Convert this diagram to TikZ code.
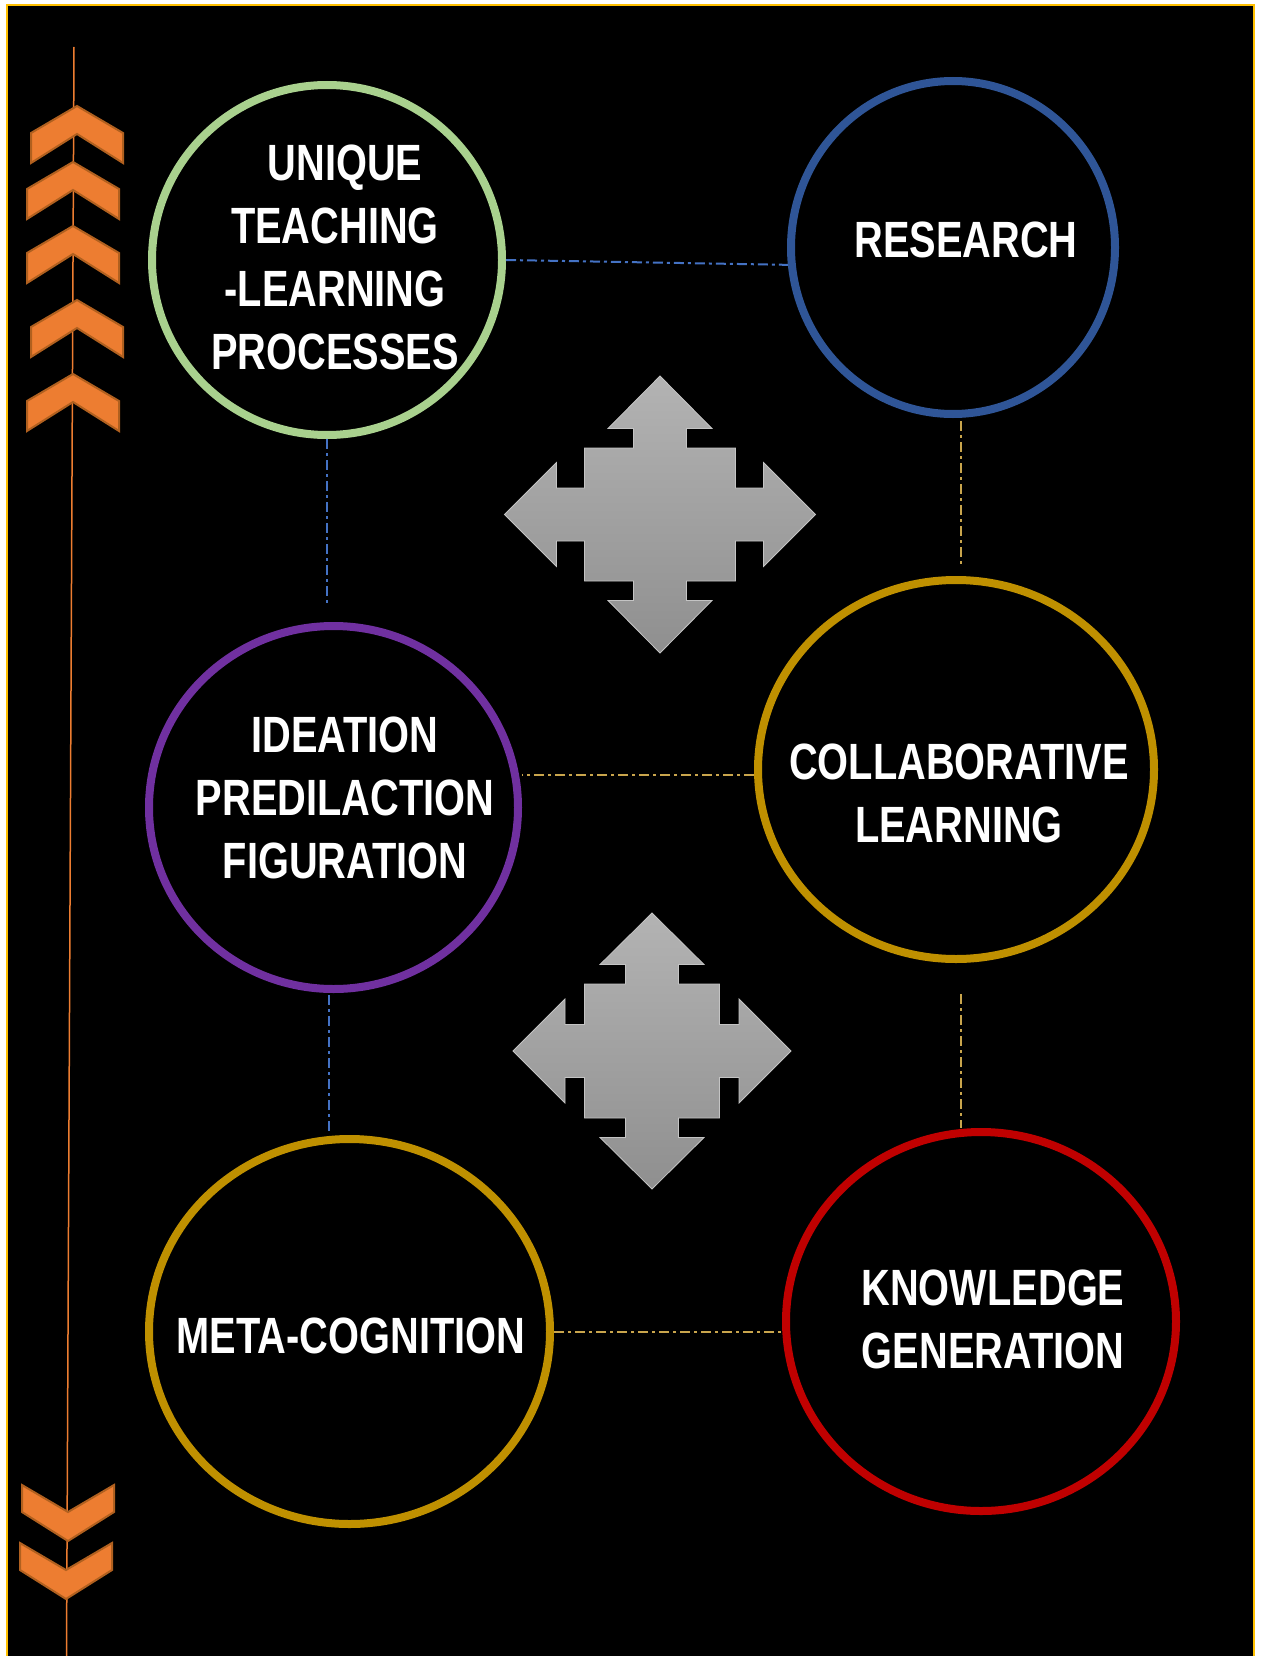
\documentclass[tikz,border=0pt]{standalone}
\usepackage{fontspec}
\newfontfamily\labfont[FakeStretch=0.78]{Liberation Sans}
\usetikzlibrary{calc,shapes}
\definecolor{framegold}{HTML}{FFC000}
\definecolor{spineorange}{HTML}{ED7D31}
\definecolor{chevfill}{HTML}{ED7D31}
\definecolor{chevline}{HTML}{B0601F}
\definecolor{crosstop}{HTML}{B3B3B3}
\definecolor{crossbot}{HTML}{8F8F8F}
\definecolor{crossline}{HTML}{C4C4C4}
\definecolor{ringgreen}{HTML}{A9D18E}
\definecolor{ringblue}{HTML}{2F5597}
\definecolor{ringpurple}{HTML}{7030A0}
\definecolor{ringgold}{HTML}{BF9000}
\definecolor{ringred}{HTML}{C00000}
\definecolor{linkblue}{HTML}{4472C4}
\definecolor{linkgold}{HTML}{C9A54C}

\begin{document}
\begin{tikzpicture}[x=1pt,y=-1pt,
ring/.style={ellipse,draw,line width=8pt,inner sep=0},
lab/.style={text=white,align=center,inner sep=0,
	font=\labfont\bfseries\fontsize{51}{63}\selectfont},
link/.style={line width=2pt,dash pattern=on 10pt off 4pt on 3pt off 4pt},
chev/.style={fill=chevfill,draw=chevline,line width=2pt},
cross/.style={top color=crosstop,bottom color=crossbot,draw=crossline,line width=0.8pt}]
	\def\crossarrow#1#2#3#4#5#6#7{%
		\filldraw[cross,shift={(#1)}] (0,-#7) -- (52,-#6) -- (26.5,-#6) -- (26.5,-#5)
		-- (#2,-#5) -- (#2,-26.5) -- (#3,-26.5) -- (#3,-52) -- (#4,0) -- (#3,52)
		-- (#3,26.5) -- (#2,26.5) -- (#2,#5) -- (26.5,#5) -- (26.5,#6) -- (52,#6)
		-- (0,#7) -- (-52,#6) -- (-26.5,#6) -- (-26.5,#5) -- (-#2,#5) -- (-#2,26.5)
		-- (-#3,26.5) -- (-#3,52) -- (-#4,0) -- (-#3,-52) -- (-#3,-26.5) -- (-#2,-26.5)
		-- (-#2,-#5) -- (-26.5,-#5) -- (-26.5,-#6) -- (-52,-#6) -- cycle;}
	\useasboundingbox (0,0) rectangle (1262,1656);
	\fill[white] (0,0) rectangle (1262,1656);
	\fill[black] (7,5) rectangle (1254,1656);
	\draw[framegold,line width=2pt] (7,1656) -- (7,5) -- (1254,5) -- (1254,1656);

	%left spine
	\draw[spineorange,line width=1.5pt] (74,47) -- (66.5,1656);
	\foreach \cx/\cy in {77/106,73/162,73/226,77/300,73/374} {
		\filldraw[chev] (\cx,\cy) -- ++(46,27) -- ++(0,30) -- (\cx,\cy+28)
		-- (\cx-46,\cy+57) -- ++(0,-30) -- cycle;
	}
	\foreach \cx/\cy in {68/1541,66/1599} {
		\filldraw[chev] (\cx,\cy) -- ++(46,-29) -- ++(0,-27) -- (\cx,\cy-29)
		-- (\cx-46,\cy-56) -- ++(0,27) -- cycle;
	}

	%four-way arrows
	\crossarrow{660,514.5}{75.5}{103.5}{155.5}{66.5}{86}{138.5}
	\crossarrow{652,1051}{67.5}{87}{139}{67}{86.5}{138}

	%circles
	\node[ring,draw=ringgreen,minimum width=350pt,minimum height=350pt] (uniq) at (327,260) {};
	\node[ring,draw=ringblue,minimum width=324pt,minimum height=333pt] (res) at (953,247.5) {};
	\node[ring,draw=ringpurple,minimum width=369pt,minimum height=363pt] (idea) at (333.5,807.5) {};
	\node[ring,draw=ringgold,minimum width=396pt,minimum height=379pt] (collab) at (956,769.5) {};
	\node[ring,draw=ringgold,minimum width=401pt,minimum height=385pt] (meta) at (349.5,1331.5) {};
	\node[ring,draw=ringred,minimum width=390pt,minimum height=379pt] (know) at (981,1321.5) {};

	\node[lab] (tuniq) at (335,257) {\hspace*{20pt}UNIQUE\\TEACHING\\-LEARNING\hspace*{20pt}\\PROCESSES};
	\node[lab] (tres) at (966,240) {RESEARCH};
	\node[lab] (tidea) at (345,798) {IDEATION\\PREDILACTION\\FIGURATION};
	\node[lab] (tcollab) at (959,793) {COLLABORATIVE\\LEARNING};
	\node[lab] (tmeta) at (351,1336) {META-COGNITION};
	\node[lab] (tknow) at (993,1319) {KNOWLEDGE\\GENERATION};

	%links
	\draw[link,linkblue] (uniq.east) -- (res.186);
	\draw[link,linkblue,shorten >=19pt] (uniq.south) -- (uniq.south |- idea.north);
	\draw[link,linkgold,shorten <=3pt,shorten >=10pt] ([xshift=8pt]res.south) -- ([xshift=8pt]res.south |- collab.north);
	\draw[link,linkgold] ([yshift=-5pt]collab.west) -- ([yshift=-5pt]collab.west -| idea.east);
	\draw[link,linkblue,shorten <=2pt,shorten >=2pt] ([xshift=-5pt]idea.south) -- ([xshift=-5pt]idea.south |- meta.north);
	\draw[link,linkgold,shorten <=31pt] ([xshift=5pt]collab.south) -- ([xshift=5pt]collab.south |- know.north);
	\draw[link,linkgold] (meta.east) -- (meta.east -| know.west);
\end{tikzpicture}
\end{document}
